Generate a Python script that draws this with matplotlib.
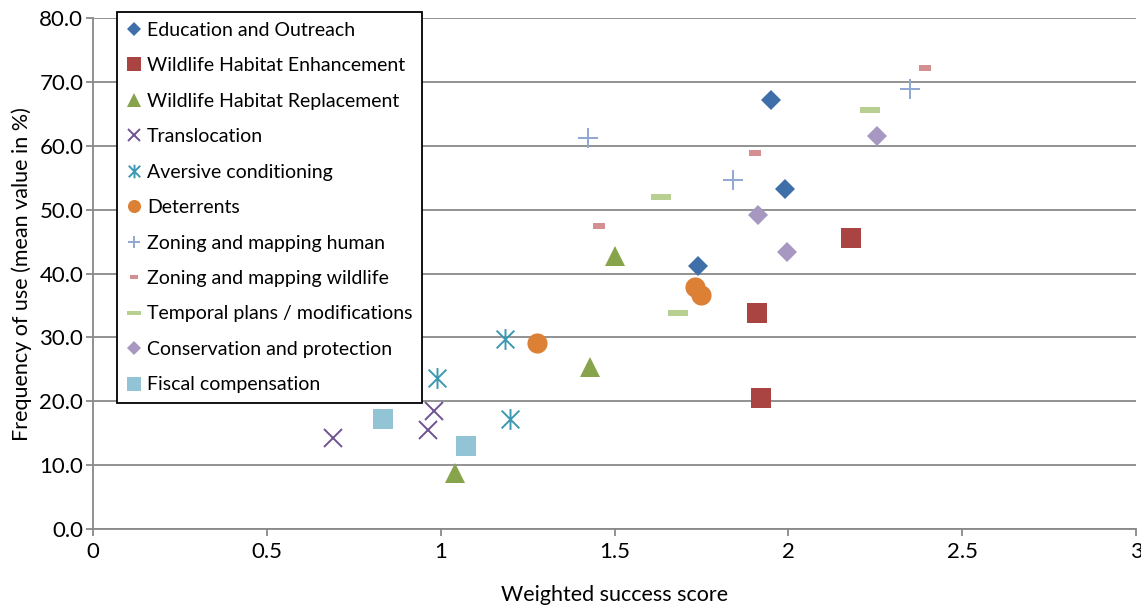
import matplotlib.pyplot as plt
from matplotlib.path import Path
from matplotlib.ticker import FormatStrFormatter, MultipleLocator

plt.rcParams['font.family'] = ['Lato', 'DejaVu Sans']

# values: weighted success score (x), frequency of use in % (y)
edu_x = [1.95, 1.99, 1.74]
edu_y = [67.2, 53.3, 41.1]
enh_x = [2.18, 1.91, 1.92]
enh_y = [45.5, 33.8, 20.5]
rep_x = [1.50, 1.43, 1.04]
rep_y = [42.8, 25.4, 8.8]
trans_x = [0.69, 0.98, 0.965]
trans_y = [14.3, 18.4, 15.5]
avers_x = [1.185, 0.99, 1.20]
avers_y = [29.7, 23.7, 17.2]
deter_x = [1.277, 1.732, 1.748]
deter_y = [29.1, 37.9, 36.6]
zone_h_x = [1.425, 1.84, 2.35]
zone_h_y = [61.2, 54.7, 68.9]
zone_w_x = [1.456, 1.903, 2.393]
zone_w_y = [47.4, 58.9, 72.2]
temp_x = [1.633, 1.682, 2.236]
temp_y = [51.9, 33.8, 65.6]
cons_x = [1.914, 1.997, 2.256]
cons_y = [49.1, 43.4, 61.5]
fisc_x = [0.834, 1.074]
fisc_y = [17.2, 13.0]

labels = ['Education and Outreach', 'Wildlife Habitat Enhancement',
          'Wildlife Habitat Replacement', 'Translocation', 'Aversive conditioning',
          'Deterrents', 'Zoning and mapping human', 'Zoning and mapping wildlife',
          'Temporal plans / modifications', 'Conservation and protection',
          'Fiscal compensation']

# marker shapes Excel uses that matplotlib lacks
short_dash = [(-2, -1), (2, -1), (2, 1), (-2, 1), (-2, -1)]
long_dash = [(-4, -1), (4, -1), (4, 1), (-4, 1), (-4, -1)]
star = Path([(0, -1), (0, 1), (-0.85, -0.85), (0.85, 0.85), (-0.85, 0.85), (0.85, -0.85)],
            [Path.MOVETO, Path.LINETO] * 3)

series = [
    (edu_x, edu_y, dict(marker='D', ms=10.5, color='#3F6FA9', mew=0)),
    (enh_x, enh_y, dict(marker='s', ms=14.5, color='#A94442', mew=0)),
    (rep_x, rep_y, dict(marker='^', ms=15, color='#87A44C', mew=0)),
    (trans_x, trans_y, dict(marker='x', ms=13, color='#6E5390', mew=1.4)),
    (avers_x, avers_y, dict(marker=star, ms=15, color='#3B99B1', mew=1.4, mfc='none')),
    (deter_x, deter_y, dict(marker='o', ms=14.5, color='#DB8035', mew=0)),
    (zone_h_x, zone_h_y, dict(marker='+', ms=14, color='#8FA8D2', mew=1.4)),
    (zone_w_x, zone_w_y, dict(marker=short_dash, ms=8, color='#D49091', mew=0)),
    (temp_x, temp_y, dict(marker=long_dash, ms=15, color='#B8CF92', mew=0)),
    (cons_x, cons_y, dict(marker='D', ms=10.5, color='#A698C1', mew=0)),
    (fisc_x, fisc_y, dict(marker='s', ms=14.5, color='#92C4D6', mew=0)),
]

W, H = 1141, 610
fig = plt.figure(figsize=(W / 100, H / 100), dpi=100)
ax = fig.add_axes([93 / W, 1 - 529 / H, (1136 - 93) / W, (529 - 18) / H])

for (xs, ys, style), label in zip(series, labels):
    ax.plot(xs, ys, ls='none', label=label, zorder=3, **style)

grey = '#898989'
ax.set_xlim(0, 3)
ax.set_ylim(0, 80)
ax.xaxis.set_major_locator(MultipleLocator(0.5))
ax.yaxis.set_major_locator(MultipleLocator(10))
ax.xaxis.set_major_formatter(FormatStrFormatter('%g'))
ax.yaxis.set_major_formatter(FormatStrFormatter('%.1f'))
ax.yaxis.grid(True, color=grey, lw=1.3)
ax.set_axisbelow(True)
for side in ['top', 'right']:
    ax.spines[side].set_visible(False)
for side in ['left', 'bottom']:
    ax.spines[side].set_color(grey)
    ax.spines[side].set_linewidth(1.3)
ax.tick_params(direction='out', length=5, width=1.3, color=grey, labelsize=16, pad=2)
ax.tick_params(axis='x', pad=4)

fig.text(22 / W, 1 - 274 / H, 'Frequency of use (mean value in %)', rotation=90,
         ha='center', va='center', fontsize=15.5)
fig.text(615 / W, 1 - 595 / H, 'Weighted success score', ha='center', va='center',
         fontsize=15.5)

leg = ax.legend(loc='upper left', bbox_to_anchor=(117 / W, 1 - 12 / H),
                bbox_transform=fig.transFigure, borderaxespad=0, fontsize=14,
                markerscale=0.65, handlelength=0.7, handletextpad=0.35,
                labelspacing=0.95, borderpad=0.5, fancybox=False, framealpha=1,
                edgecolor='black')
leg.get_frame().set_linewidth(1.3)
leg.set_zorder(5)

fig.savefig('out.png', dpi=100)
